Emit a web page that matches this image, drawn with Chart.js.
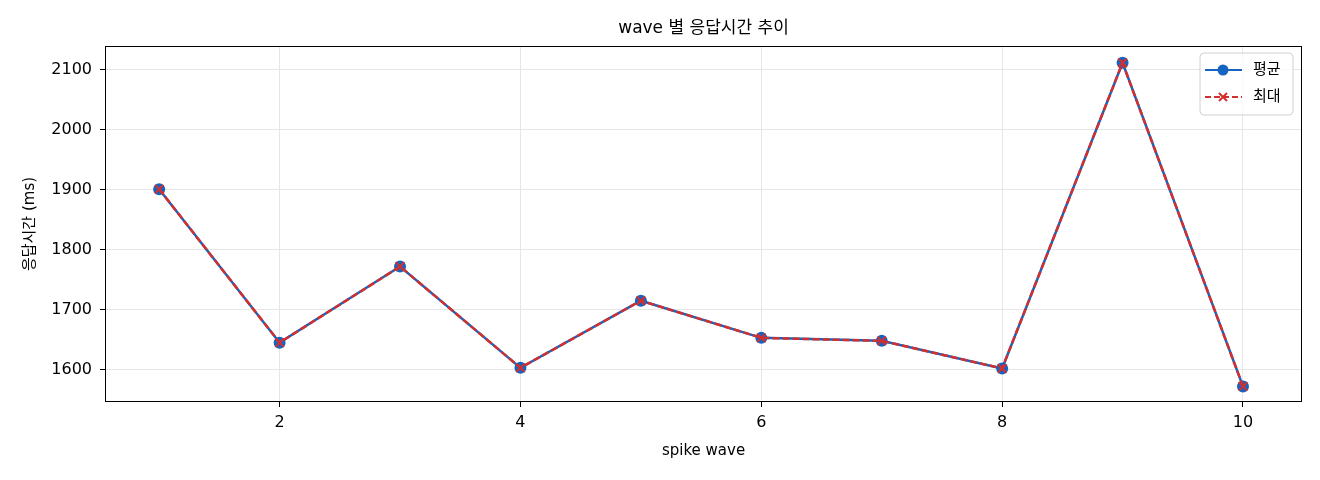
<!DOCTYPE html>
<html>
<head>
<meta charset="utf-8">
<script src="https://cdn.jsdelivr.net/npm/chart.js@4"></script>
<style>
  body { margin: 0; background: #fff; }
  #wrap { width: 1320px; height: 480px; }
</style>
</head>
<body>
<div id="wrap"><canvas id="myChart"></canvas></div>
<script>
// data
let waves = [1, 2, 3, 4, 5, 6, 7, 8, 9, 10];
let avgMs = [1901, 1645, 1772, 1603, 1715, 1653, 1648, 1602, 2112, 1572];
let maxMs = [1901, 1645, 1772, 1603, 1715, 1653, 1648, 1602, 2112, 1572];
let xTicks = [2, 4, 6, 8, 10];
let yTicks = [1600, 1700, 1800, 1900, 2000, 2100];
let chartTitle = 'wave 별 응답시간 추이';

const FONT = "'DejaVu Sans', 'Noto Sans CJK KR', sans-serif";
const BLUE = '#1565c0';
const RED = '#d32f2f';

function toPoints(ys) {
  return waves.map(function(x, i) { return {x: x, y: ys[i]}; });
}

// title over plot, frame around plot, legend box in upper right
const framePlugin = {
  id: 'frame',
  afterDraw(chart) {
    const ctx = chart.ctx;
    const a = chart.chartArea;
    ctx.save();
    ctx.fillStyle = '#000';
    ctx.font = '17px ' + FONT;
    ctx.textAlign = 'center';
    ctx.textBaseline = 'middle';
    ctx.fillText(chartTitle, (a.left + a.right) / 2, 29);
    ctx.textAlign = 'left';

    ctx.strokeStyle = '#000';
    ctx.lineWidth = 1;
    ctx.strokeRect(a.left + 0.5, a.top + 0.5, a.right - a.left - 1, a.bottom - a.top - 1);

    // legend
    const bx = a.right - 102, by = a.top + 7, bw = 93, bh = 62;
    ctx.fillStyle = 'rgba(255,255,255,0.8)';
    ctx.strokeStyle = '#d0d0d0';
    ctx.beginPath();
    ctx.roundRect(bx, by, bw, bh, 4);
    ctx.fill();
    ctx.stroke();

    const items = [
      {label: '평균', color: BLUE, dash: [], marker: 'circle'},
      {label: '최대', color: RED, dash: [6, 3], marker: 'cross'}
    ];
    items.forEach(function(it, i) {
      const y = by + 17 + i * 27;
      ctx.strokeStyle = it.color;
      ctx.lineWidth = 2;
      ctx.setLineDash(it.dash);
      ctx.beginPath();
      ctx.moveTo(bx + 5, y);
      ctx.lineTo(bx + 42, y);
      ctx.stroke();
      ctx.setLineDash([]);
      if (it.marker === 'circle') {
        ctx.fillStyle = it.color;
        ctx.beginPath();
        ctx.arc(bx + 23, y, 5.5, 0, Math.PI * 2);
        ctx.fill();
      } else {
        ctx.beginPath();
        ctx.moveTo(bx + 19, y - 4); ctx.lineTo(bx + 27, y + 4);
        ctx.moveTo(bx + 27, y - 4); ctx.lineTo(bx + 19, y + 4);
        ctx.stroke();
      }
      ctx.fillStyle = '#000';
      ctx.font = '15px ' + FONT;
      ctx.textBaseline = 'middle';
      ctx.fillText(it.label, bx + 53, y);
    });
    ctx.restore();
  }
};

var ctx = document.getElementById('myChart').getContext('2d');
var chart = new Chart(ctx, {
  type: 'line',
  data: {
    datasets: [{
      label: '평균',
      data: toPoints(avgMs),
      borderColor: BLUE,
      backgroundColor: BLUE,
      borderWidth: 2.5,
      pointStyle: 'circle',
      pointRadius: 6,
      pointBorderWidth: 0,
      order: 2
    }, {
      label: '최대',
      data: toPoints(maxMs),
      borderColor: RED,
      backgroundColor: RED,
      borderWidth: 2.5,
      borderDash: [7, 3],
      pointStyle: 'crossRot',
      pointRadius: 6,
      pointBorderWidth: 2,
      order: 1
    }]
  },
  options: {
    responsive: true,
    maintainAspectRatio: false,
    animation: false,
    layout: { padding: { left: 0, right: 18, top: 46, bottom: 0 } },
    plugins: {
      legend: { display: false },
      tooltip: { enabled: false },
      title: { display: false }
    },
    scales: {
      x: {
        type: 'linear',
        min: 0.55,
        max: 10.49,
        afterBuildTicks: function(s) { s.ticks = xTicks.map(function(v) { return {value: v}; }); },
        afterFit: function(s) { s.height = 78; },
        grid: { color: '#e6e6e6', tickColor: '#000', tickLength: 5 },
        border: { display: false },
        ticks: {
          color: '#000', padding: 6, font: { family: FONT, size: 16 },
          callback: function(v) { return String(v); }
        },
        title: {
          display: true, text: 'spike wave', color: '#000',
          font: { family: FONT, size: 15 },
          padding: { top: 0, bottom: 20 }
        }
      },
      y: {
        min: 1546,
        max: 2140,
        afterBuildTicks: function(s) { s.ticks = yTicks.map(function(v) { return {value: v}; }); },
        afterFit: function(s) { s.width = 105; },
        grid: { color: '#e6e6e6', tickColor: '#000', tickLength: 5 },
        border: { display: false },
        ticks: {
          color: '#000', padding: 8, font: { family: FONT, size: 16 },
          callback: function(v) { return String(v); }
        },
        title: {
          display: true, text: '응답시간 (ms)', color: '#000',
          font: { family: FONT, size: 15 },
          padding: { top: 21, bottom: 0 }
        }
      }
    }
  },
  plugins: [framePlugin]
});
</script>
</body>
</html>
